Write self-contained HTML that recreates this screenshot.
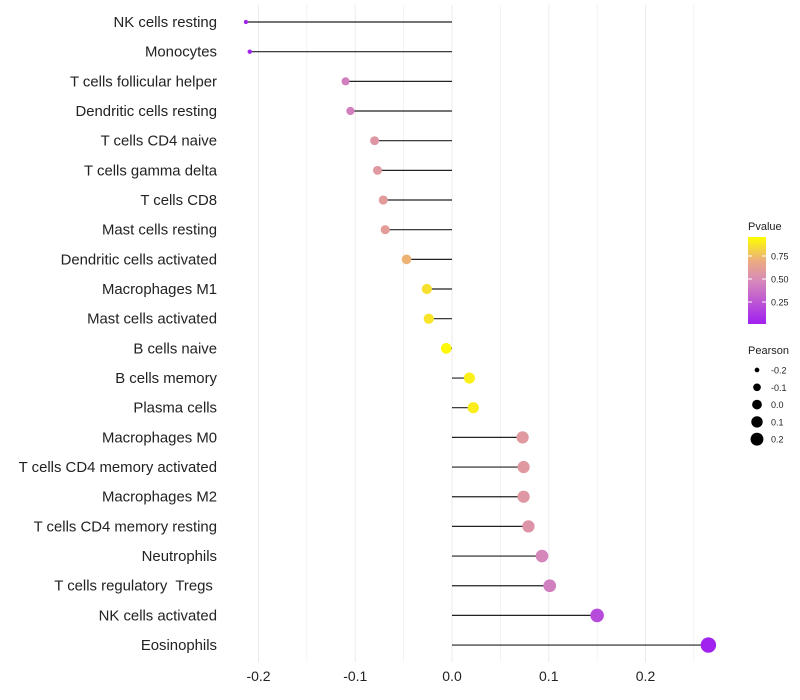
<!DOCTYPE html>
<html><head><meta charset="utf-8"><style>
body{margin:0;background:#fff;font-family:"Liberation Sans",sans-serif}
svg{display:block}
text{white-space:pre}
</style></head><body>
<svg id="chart" width="800" height="700"></svg>
<script>
const categories=["NK cells resting","Monocytes","T cells follicular helper","Dendritic cells resting","T cells CD4 naive","T cells gamma delta","T cells CD8","Mast cells resting","Dendritic cells activated","Macrophages M1","Mast cells activated","B cells naive","B cells memory","Plasma cells","Macrophages M0","T cells CD4 memory activated","Macrophages M2","T cells CD4 memory resting","Neutrophils","T cells regulatory  Tregs ","NK cells activated","Eosinophils"];
const pearson=[-0.213,-0.209,-0.110,-0.105,-0.080,-0.077,-0.071,-0.069,-0.047,-0.026,-0.024,-0.006,0.018,0.022,0.073,0.074,0.074,0.079,0.093,0.101,0.150,0.265];
const pvalues=[0.01,0.02,0.45,0.45,0.58,0.60,0.62,0.63,0.75,0.90,0.91,0.98,0.95,0.94,0.60,0.60,0.59,0.57,0.48,0.45,0.20,0.01];
const xTicks=[-0.2,-0.1,0.0,0.1,0.2];
const legendSizes=[-0.2,-0.1,0.0,0.1,0.2];
const legendP=[0.25,0.50,0.75];

const NS="http://www.w3.org/2000/svg";
const svg=document.getElementById('chart');
function mk(t,a,p){const e=document.createElementNS(NS,t);for(const k in a)e.setAttribute(k,a[k]);(p||svg).appendChild(e);return e;}
const x=v=>452+v*967.5;
const y=i=>22+i*29.67;
const rad=v=>Math.sqrt(Math.max(1,29+115*v));
function lerp(a,b,t){return a.map((c,i)=>Math.round(c+(b[i]-c)*t));}
function color(p){
  const s=[[160,32,240],[215,138,185],[235,170,130],[255,255,0]];
  const st=[0,0.5,0.72,1];
  for(let i=0;i<3;i++){if(p<=st[i+1]){const c=lerp(s[i],s[i+1],(p-st[i])/(st[i+1]-st[i]));return `rgb(${c})`;}}
  return 'rgb(255,255,0)';
}
for(let v=-0.2;v<=0.251;v+=0.05){
  const g=mk('line',{x1:x(v),x2:x(v),y1:5,y2:662,stroke:'#ebebeb','stroke-width':Math.abs(Math.round(v*100))%10===0?1:0.6});
  
  
}
xTicks.forEach(v=>{
  const t=mk('text',{x:x(v),y:681,'text-anchor':'middle','font-size':14,fill:'#222'});
  t.textContent=v.toFixed(1);
  
  
});
categories.forEach((c,i)=>{
  const t=mk('text',{x:217,y:y(i)+5,'text-anchor':'end','font-size':14.9,fill:'#222'});
  t.textContent=c;
  
  
  const l=mk('line',{x1:x(0),x2:x(pearson[i]),y1:y(i),y2:y(i),stroke:'#222','stroke-width':1.2});
  
  
  const d=mk('circle',{cx:x(pearson[i]),cy:y(i),r:rad(pearson[i]),fill:color(pvalues[i])});
  
  
});
const defs=mk('defs',{});
const gr=mk('linearGradient',{id:'pg',x1:0,y1:1,x2:0,y2:0},defs);
[0,0.25,0.5,0.72,1].forEach(o=>mk('stop',{offset:o,'stop-color':color(o)},gr));
const lt=mk('text',{x:748,y:230,'font-size':11,fill:'#222'});lt.textContent='Pvalue';


const cb=mk('rect',{x:748,y:237,width:18,height:87,fill:'url(#pg)'});


const py=p=>325-p*92;
legendP.forEach(p=>{
  mk('line',{x1:748,x2:752,y1:py(p),y2:py(p),stroke:'#fff'});
  mk('line',{x1:762,x2:766,y1:py(p),y2:py(p),stroke:'#fff'});
  const t=mk('text',{x:771,y:py(p)+3.5,'font-size':9,fill:'#222'});t.textContent=p.toFixed(2);
  
  
});
const st=mk('text',{x:748,y:354,'font-size':11,fill:'#222'});st.textContent='Pearson';


legendSizes.forEach((v,i)=>{
  const cy=370+i*17.3;
  const c=mk('circle',{cx:757,cy:cy,r:rad(v)*0.85+0.3,fill:'#000'});
  
  
  const t=mk('text',{x:771,y:cy+3.5,'font-size':9,fill:'#222'});t.textContent=v.toFixed(1);
  
  
});
</script>
</body></html>
